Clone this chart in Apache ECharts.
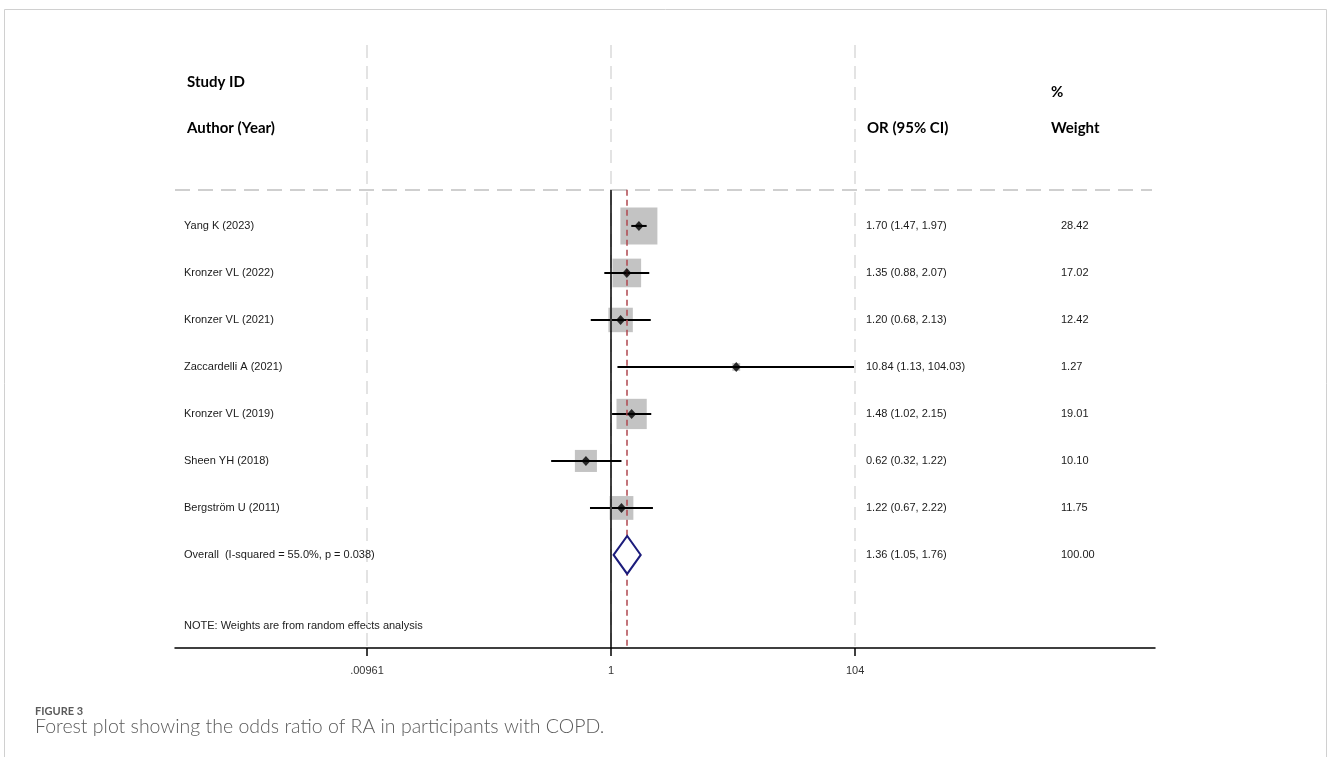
<!DOCTYPE html>
<html><head><meta charset="utf-8">
<script src="https://cdn.jsdelivr.net/npm/echarts@6/dist/echarts.min.js"></script>
<style>html,body{margin:0;padding:0;background:#fff}#c{width:1328px;height:757px}</style>
</head><body><div id="c"></div>
<script>
// ---- data ----
const studies = ['Yang K (2023)','Kronzer VL (2022)','Kronzer VL (2021)','Zaccardelli A (2021)','Kronzer VL (2019)','Sheen YH (2018)','Bergström U (2011)'];
const orValues = [1.70, 1.35, 1.20, 10.84, 1.48, 0.62, 1.22];
const ciLow    = [1.47, 0.88, 0.68, 1.13, 1.02, 0.32, 0.67];
const ciHigh   = [1.97, 2.07, 2.13, 104.03, 2.15, 1.22, 2.22];
const weights  = [28.42, 17.02, 12.42, 1.27, 19.01, 10.10, 11.75];
const overallOR = 1.36, overallLow = 1.05, overallHigh = 1.76, overallWeight = 100.00;
const iSquared = '55.0%', pValue = '0.038';
const tickValues = [0.00961, 1, 104];
const tickLabels = ['.00961', '1', '104'];

// ---- layout constants ----
const X_MIN = 0.000249, X_MAX = 31330;
const Y_MIN = -3.85, Y_MAX = 8.98, HEADER_ROW = -0.77;
const BOX_SCALE = 6.94;
const TXT = '11px "Liberation Sans", Arial, sans-serif';
const HFONT = 'bold 15px Lato, "Open Sans", sans-serif';
const overallRow = studies.length;

const chart = echarts.init(document.getElementById('c'), null, {renderer: 'canvas'});

const textRows = studies.map((s, i) => [i]).concat([[overallRow]]);

const option = {
  backgroundColor: '#fff',
  animation: false,
  grid: {left: 175, right: 173, top: 45, bottom: 109, containLabel: false, outerBoundsMode: 'none'},
  xAxis: {
    type: 'log', logBase: 10, min: X_MIN, max: X_MAX,
    axisLine: {show: true, onZero: false, lineStyle: {color: '#000', width: 1.5}},
    axisTick: {show: true, customValues: tickValues, length: 8, lineStyle: {color: '#000', width: 1.5}},
    axisLabel: {show: true, customValues: tickValues, margin: 17, color: '#333',
      fontFamily: '"Liberation Sans", Arial, sans-serif', fontSize: 11,
      formatter: v => { const k = tickValues.findIndex(t => Math.abs(t - v) / t < 1e-6); return k >= 0 ? tickLabels[k] : ''; }},
    splitLine: {show: false},
    minorTick: {show: false}, minorSplitLine: {show: false}
  },
  yAxis: {type: 'value', inverse: true, min: Y_MIN, max: Y_MAX, show: false},
  graphic: [
    {type: 'rect', shape: {x: 4.5, y: 9.5, width: 1322, height: 800}, style: {fill: 'none', stroke: '#d0d0d0', lineWidth: 1}, silent: true, z: 0},
    {type: 'text', x: 187, y: 82, style: {text: 'Study ID', font: HFONT, fill: '#000', verticalAlign: 'middle'}},
    {type: 'text', x: 187, y: 128, style: {text: 'Author (Year)', font: HFONT, fill: '#000', verticalAlign: 'middle'}},
    {type: 'text', x: 867, y: 128, style: {text: 'OR (95% CI)', font: HFONT, fill: '#000', verticalAlign: 'middle'}},
    {type: 'text', x: 1051, y: 92, style: {text: '%', font: HFONT, fill: '#000', verticalAlign: 'middle'}},
    {type: 'text', x: 1051, y: 128, style: {text: 'Weight', font: HFONT, fill: '#000', verticalAlign: 'middle'}},
    {type: 'text', x: 184, y: 626, style: {text: 'NOTE: Weights are from random effects analysis', font: TXT, fill: '#222', verticalAlign: 'middle'}},
    {type: 'text', x: 35, y: 711, style: {text: 'FIGURE 3', font: 'bold 11px Lato, "Open Sans", sans-serif', fill: '#5a5a5a', verticalAlign: 'middle'}},
    {type: 'text', x: 35, y: 727, style: {text: 'Forest plot showing the odds ratio of RA in participants with COPD.', font: '300 19.5px Lato, "Open Sans", sans-serif', fill: '#5a5a5a', verticalAlign: 'middle'}}
  ],
  series: [
    // reference lines
    {
      type: 'line', data: [], silent: true, z: 1,
      markLine: {
        silent: true, symbol: 'none', animation: false, label: {show: false},
        data: tickValues.map(t => [
          {coord: [t, Y_MIN], lineStyle: {color: '#e3e3e3', width: 2, type: [13, 8]}},
          {coord: [t, Y_MAX]}
        ]).concat([
          [{coord: [X_MIN, HEADER_ROW], lineStyle: {color: '#cfcfcf', width: 2, type: [15, 8]}}, {coord: [29580, HEADER_ROW]}],
          [{coord: [1, HEADER_ROW], lineStyle: {color: '#000', width: 1.5, type: 'solid'}}, {coord: [1, Y_MAX]}],
          [{coord: [overallOR, HEADER_ROW], lineStyle: {color: '#b0474f', width: 1.5, type: [6, 4]}}, {coord: [overallOR, Y_MAX]}]
        ])
      }
    },
    // weight boxes
    {
      type: 'scatter', z: 3, silent: true,
      symbol: 'rect',
      symbolSize: (v, p) => BOX_SCALE * Math.sqrt(weights[p.dataIndex]),
      itemStyle: {color: '#b4b4b4'},
      data: orValues.map((v, i) => [v, i])
    },
    // confidence intervals
    {
      type: 'custom', z: 4, silent: true,
      encode: {x: [0, 1], y: 2},
      data: ciLow.map((lo, i) => [lo, ciHigh[i], i]),
      renderItem: (params, api) => {
        const a = api.coord([api.value(0), api.value(2)]);
        const b = api.coord([api.value(1), api.value(2)]);
        return {type: 'line', shape: {x1: a[0], y1: a[1], x2: b[0], y2: b[1]}, style: {stroke: '#000', lineWidth: 2}};
      }
    },
    // point estimates
    {
      type: 'scatter', z: 5, silent: true,
      symbol: 'diamond', symbolSize: [9, 10],
      itemStyle: {color: '#000'},
      data: orValues.map((v, i) => [v, i])
    },
    // overall diamond
    {
      type: 'custom', z: 5, silent: true,
      encode: {x: [0, 1, 2], y: 3},
      data: [[overallLow, overallOR, overallHigh, overallRow]],
      renderItem: (params, api) => {
        const l = api.coord([api.value(0), api.value(3)]);
        const c = api.coord([api.value(1), api.value(3)]);
        const r = api.coord([api.value(2), api.value(3)]);
        const h = 19;
        return {type: 'polygon', shape: {points: [[l[0], l[1]], [c[0], c[1] - h], [r[0], r[1]], [c[0], c[1] + h]]},
          style: {fill: '#fff', stroke: '#1c1c7c', lineWidth: 2}};
      }
    },
    // text columns
    {
      type: 'custom', z: 6, silent: true,
      encode: {y: 0},
      data: textRows,
      renderItem: (params, api) => {
        const i = params.dataIndex;
        const y = api.coord([1, api.value(0)])[1];
        let name, orTxt, wTxt;
        if (i < studies.length) {
          name = studies[i];
          orTxt = orValues[i].toFixed(2) + ' (' + ciLow[i].toFixed(2) + ', ' + ciHigh[i].toFixed(2) + ')';
          wTxt = weights[i].toFixed(2);
        } else {
          name = 'Overall  (I-squared = ' + iSquared + ', p = ' + pValue + ')';
          orTxt = overallOR.toFixed(2) + ' (' + overallLow.toFixed(2) + ', ' + overallHigh.toFixed(2) + ')';
          wTxt = overallWeight.toFixed(2);
        }
        const st = t => ({text: t, font: TXT, fill: '#1a1a1a', verticalAlign: 'middle'});
        return {type: 'group', children: [
          {type: 'text', x: 184, y: y, style: st(name)},
          {type: 'text', x: 866, y: y, style: st(orTxt)},
          {type: 'text', x: 1061, y: y, style: st(wTxt)}
        ]};
      }
    }
  ]
};
chart.setOption(option);
</script>
</body></html>
